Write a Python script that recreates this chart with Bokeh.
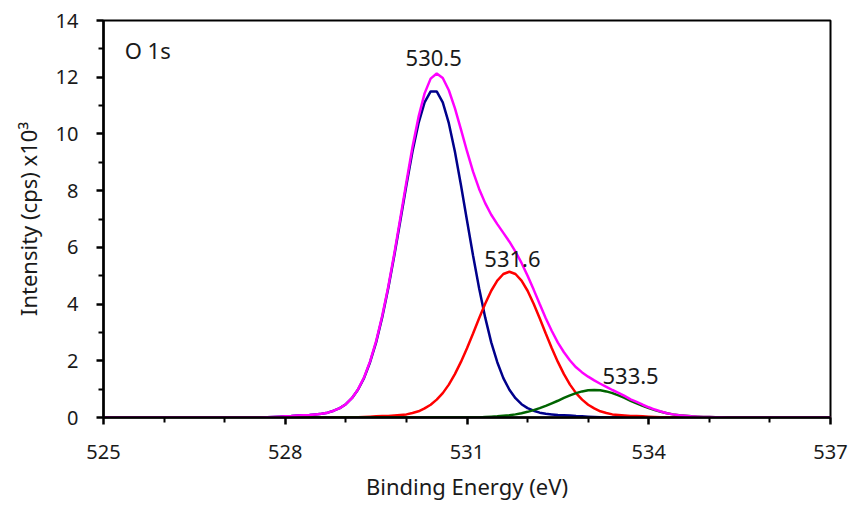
from bokeh.plotting import figure
from bokeh.models import Range1d, FixedTicker, ColumnDataSource, Label
from bokeh.embed import file_html
from bokeh.resources import INLINE
from bokeh.core.properties import value

# ---------------- data ----------------
energy = [
    525.0,
    527.6, 527.7, 527.8, 527.9, 528.0, 528.1, 528.2, 528.3, 528.4, 528.5,
    528.6, 528.7, 528.8, 528.9, 529.0, 529.1, 529.2, 529.3, 529.4, 529.5,
    529.6, 529.7, 529.8, 529.9, 530.0, 530.1, 530.2, 530.3, 530.4, 530.5,
    530.6, 530.7, 530.8, 530.9, 531.0, 531.1, 531.2, 531.3, 531.4, 531.5,
    531.6, 531.7, 531.8, 531.9, 532.0, 532.1, 532.2, 532.3, 532.4, 532.5,
    532.6, 532.7, 532.8, 532.9, 533.0, 533.1, 533.2, 533.3, 533.4, 533.5,
    533.6, 533.7, 533.8, 533.9, 534.0, 534.1, 534.2, 534.3, 534.4, 534.5,
    534.6, 534.7, 534.8, 534.9, 535.0, 535.1, 535.2, 535.3, 535.4, 535.5,
    535.6,
    537.0,
]

peak_530 = [  # blue component
    0.00,
    0.00, 0.01, 0.02, 0.03, 0.04, 0.05, 0.07, 0.08, 0.09, 0.11,
    0.13, 0.17, 0.24, 0.33, 0.47, 0.68, 0.98, 1.39, 1.95, 2.65,
    3.53, 4.56, 5.71, 6.95, 8.20, 9.38, 10.38, 11.11, 11.50, 11.50,
    11.11, 10.38, 9.38, 8.20, 6.95, 5.71, 4.56, 3.53, 2.65, 1.95,
    1.39, 0.98, 0.68, 0.47, 0.33, 0.24, 0.17, 0.13, 0.11, 0.09,
    0.08, 0.07, 0.05, 0.04, 0.03, 0.02, 0.01, 0.00, 0.00, 0.00,
    0.00, 0.00, 0.00, 0.00, 0.00, 0.00, 0.00, 0.00, 0.00, 0.00,
    0.00, 0.00, 0.00, 0.00, 0.00, 0.00, 0.00, 0.00, 0.00, 0.00,
    0.00,
    0.00,
]

peak_531 = [  # red component
    0.00,
    0.00, 0.00, 0.00, 0.00, 0.00, 0.00, 0.00, 0.00, 0.00, 0.00,
    0.00, 0.00, 0.00, 0.00, 0.00, 0.00, 0.01, 0.02, 0.03, 0.04,
    0.05, 0.05, 0.07, 0.09, 0.11, 0.16, 0.22, 0.32, 0.45, 0.63,
    0.86, 1.16, 1.53, 1.96, 2.44, 2.96, 3.50, 4.01, 4.47, 4.83,
    5.06, 5.14, 5.06, 4.83, 4.47, 4.01, 3.50, 2.96, 2.44, 1.96,
    1.53, 1.16, 0.86, 0.63, 0.45, 0.32, 0.22, 0.16, 0.11, 0.09,
    0.07, 0.05, 0.05, 0.04, 0.03, 0.02, 0.01, 0.00, 0.00, 0.00,
    0.00, 0.00, 0.00, 0.00, 0.00, 0.00, 0.00, 0.00, 0.00, 0.00,
    0.00,
    0.00,
]

peak_533 = [  # green component
    0.00,
    0.00, 0.00, 0.00, 0.00, 0.00, 0.00, 0.00, 0.00, 0.00, 0.00,
    0.00, 0.00, 0.00, 0.00, 0.00, 0.00, 0.00, 0.00, 0.00, 0.00,
    0.00, 0.00, 0.00, 0.00, 0.00, 0.00, 0.00, 0.00, 0.00, 0.00,
    0.00, 0.00, 0.00, 0.00, 0.00, 0.00, 0.00, 0.02, 0.03, 0.04,
    0.06, 0.08, 0.11, 0.15, 0.20, 0.26, 0.33, 0.41, 0.50, 0.59,
    0.69, 0.78, 0.86, 0.92, 0.96, 0.97, 0.96, 0.92, 0.86, 0.78,
    0.69, 0.59, 0.50, 0.41, 0.33, 0.26, 0.20, 0.15, 0.11, 0.08,
    0.06, 0.04, 0.03, 0.02, 0.02, 0.01, 0.01, 0.00, 0.00, 0.00,
    0.00,
    0.00,
]

# envelope = sum of the fitted components
envelope = [a + b + c for a, b, c in zip(peak_530, peak_531, peak_533)]

x_ticks = [525, 528, 531, 534, 537]
x_minor = [526, 527, 529, 530, 532, 533, 535, 536]
y_ticks = [0, 2, 4, 6, 8, 10, 12, 14]
y_minor = [1, 3, 5, 7, 9, 11, 13]

peak_labels = ["530.5", "531.6", "533.5"]
peak_label_x = [530.45, 531.75, 533.7]
peak_label_y = [12.67, 5.6, 1.47]

# ---------------- figure ----------------
FONT = "Noto Sans"

p = figure(width=851, height=509, output_backend="svg", toolbar_location=None,
           x_range=Range1d(525, 537), y_range=Range1d(0, 14),
           min_border_left=103, min_border_right=21,
           min_border_top=20, min_border_bottom=92)

p.background_fill_color = "white"
p.border_fill_color = "white"
p.xgrid.visible = False
p.ygrid.visible = False
p.outline_line_color = "black"
p.outline_line_width = 2
p.outline_line_alpha = 1.0

src = ColumnDataSource(dict(x=energy, b=peak_530, r=peak_531, g=peak_533, m=envelope))
p.line("x", "b", source=src, line_color="#00008B", line_width=2.5)
p.line("x", "r", source=src, line_color="#FF0000", line_width=2.5)
p.line("x", "g", source=src, line_color="#006400", line_width=2.5)
p.line("x", "m", source=src, line_color="#FF00FF", line_width=2.5)

lab_src = ColumnDataSource(dict(x=peak_label_x, y=peak_label_y, t=peak_labels))
p.text("x", "y", text="t", source=lab_src, text_font=value(FONT),
       text_font_size="22px", text_align="center", text_baseline="middle",
       text_color="#1a1a1a")

p.add_layout(Label(x=525.35, y=12.95, text="O 1s", text_font=FONT,
                   text_font_size="22px", text_align="left",
                   text_baseline="middle", text_color="#1a1a1a"))

for ax in (p.xaxis[0], p.yaxis[0]):
    ax.axis_line_color = "black"
    ax.axis_line_width = 2.5
    ax.major_tick_line_color = "black"
    ax.major_tick_line_width = 2.5
    ax.minor_tick_line_color = "black"
    ax.minor_tick_line_width = 2
    ax.major_tick_in = 0
    ax.minor_tick_in = 0
    ax.major_tick_out = 7
    ax.minor_tick_out = 5
    ax.major_label_text_font = FONT
    ax.major_label_text_font_size = "20px"
    ax.major_label_text_color = "#1a1a1a"
    ax.axis_label_text_font = FONT
    ax.axis_label_text_font_size = "22px"
    ax.axis_label_text_font_style = "normal"
    ax.axis_label_text_color = "#1a1a1a"

p.xaxis.ticker = FixedTicker(ticks=x_ticks, minor_ticks=x_minor)
p.yaxis.ticker = FixedTicker(ticks=y_ticks, minor_ticks=y_minor)
p.xaxis.major_label_standoff = 20
p.yaxis.major_label_standoff = 18
p.xaxis.axis_label = "Binding Energy (eV)"
p.yaxis.axis_label = "Intensity (cps) x10\u00b3"
p.xaxis.axis_label_standoff = 9
p.yaxis.axis_label_standoff = 10

open("out.html", "w").write(file_html(p, INLINE))
